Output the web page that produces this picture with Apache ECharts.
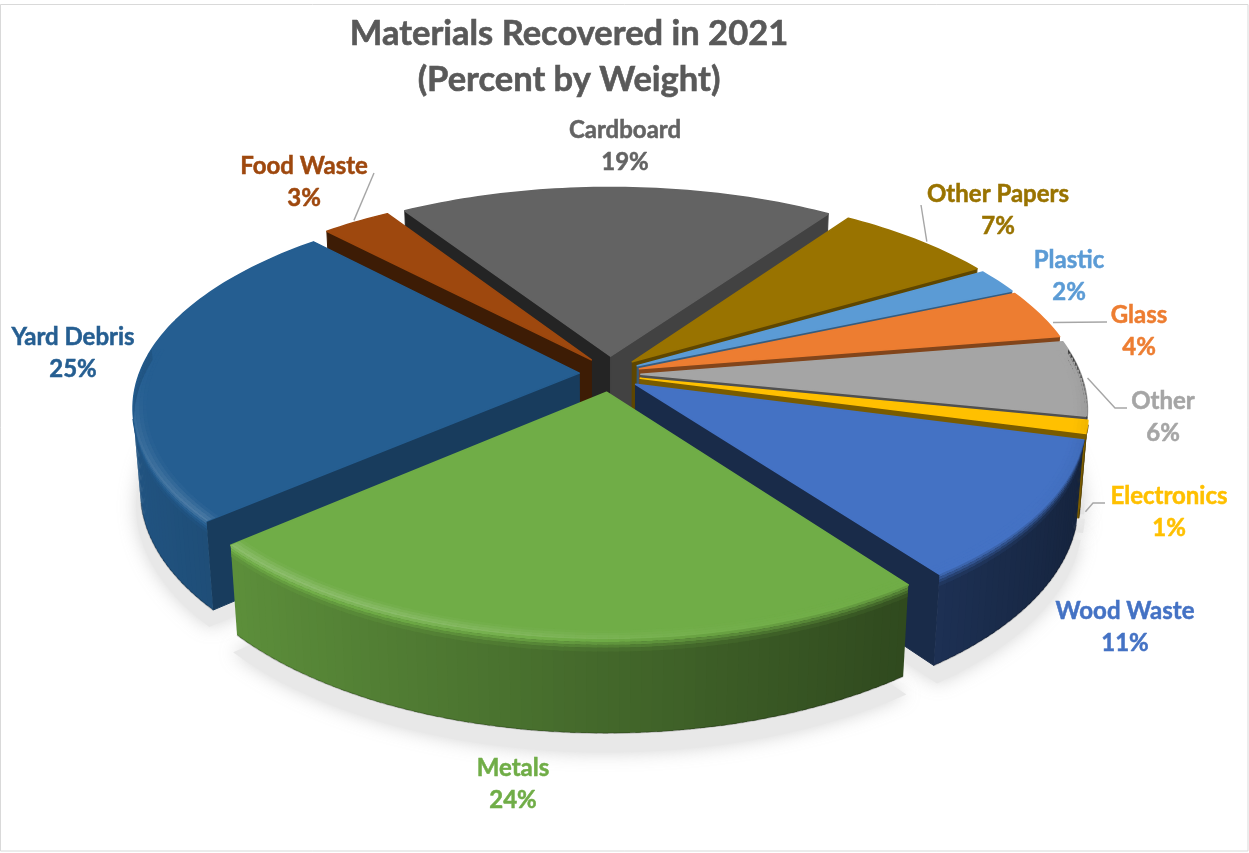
<!DOCTYPE html>
<html>
<head>
<meta charset="utf-8">
<title>Materials Recovered in 2021</title>
<script src="https://cdn.jsdelivr.net/npm/echarts@6/dist/echarts.min.js"></script>
<style>
  html, body { margin: 0; padding: 0; background: #fff; }
  #chart { width: 1249px; height: 853px; }
</style>
</head>
<body>
<div id="chart"></div>
<script>
// Recovered materials, clockwise from the far side of the disc
const categories = ['Cardboard', 'Other Papers', 'Plastic', 'Glass', 'Other', 'Electronics', 'Wood Waste', 'Metals', 'Yard Debris', 'Food Waste'];
const percents = [19, 7, 2, 4, 6, 1, 11, 24, 25, 3];
const sliceColors = ['#636363', '#997300', '#5b9bd5', '#ed7d31', '#a5a5a5', '#ffc000', '#4472c4', '#70ad47', '#255e91', '#9e480e'];
const chartTitle = 'Materials Recovered in 2021\n(Percent by Weight)';

// Label centres in page pixels, [x, y of the name line]
const labelCentres = [[625, 130], [998, 194], [1069, 260], [1139, 315], [1163, 401], [1169, 496], [1125, 611], [513, 768], [73, 337], [304, 166]];
// Leader lines: slice index -> rim position and elbow points out to the label
const leaders = {
  1: { rim: 0.55, z: 0, out: [[921, 205]] },
  3: { rim: 0.7, z: 0, out: [[1107, 322]] },
  4: { rim: 0.5, z: 0, out: [[1115, 408], [1127, 408]] },
  5: { rim: 0.5, z: 1, out: [[1093, 503], [1105, 503]] },
  9: { rim: 0.5, z: 0, out: [[374, 173]] }
};

// Perspective view of the tilted disc
const view = {
  cx: 610, cy: 374,
  scaleX: 440, scaleY: 201,
  depth: 83,
  perspective: 0.16, drop: 0.015,
  explodeX: 0.07, explodeY: 0.09, startDeg: -32.5
};

const RAD = Math.PI / 180;
const total = percents.reduce((a, b) => a + b, 0);

function project(u, v, z) {
  const w = 1 + view.perspective * v + view.drop * z;
  return [view.cx + view.scaleX * u / w, view.cy - view.scaleY * v / w + view.depth * z / w];
}

// Angular extent and explosion offset of each slice
let running = view.startDeg;
const slices = percents.map((p, i) => {
  const a0 = running;
  const a1 = running + (p / total) * 360;
  running = a1;
  const mid = (a0 + a1) / 2;
  return {
    i, a0, a1, mid,
    ox: view.explodeX * Math.sin(mid * RAD),
    oy: view.explodeY * Math.cos(mid * RAD)
  };
});

// Far slices are painted first
const paintRank = {};
slices.slice()
  .sort((a, b) => b.oy + 0.6 * Math.cos(b.mid * RAD) - (a.oy + 0.6 * Math.cos(a.mid * RAD)))
  .forEach((s, rank) => { paintRank[s.i] = rank; });

function rgb(hex) {
  return [1, 3, 5].map(k => parseInt(hex.substr(k, 2), 16));
}
function shade(hex, f) {
  const c = rgb(hex).map(v => Math.max(0, Math.min(255, Math.round(f <= 1 ? v * f : v + (255 - v) * (f - 1)))));
  return 'rgb(' + c.join(',') + ')';
}
function clamp01(t) { return Math.max(0, Math.min(1, t)); }

function rimPoint(s, deg, radius, z) {
  return project(s.ox + radius * Math.sin(deg * RAD), s.oy + radius * Math.cos(deg * RAD), z);
}

function polygon(points, fill, z2) {
  return { type: 'polygon', silent: true, z2, shape: { points }, style: { fill } };
}

function signedArea(pts) {
  let a = 0;
  for (let k = 0; k < pts.length; k++) {
    const p = pts[k], q = pts[(k + 1) % pts.length];
    a += p[0] * q[1] - q[0] * p[1];
  }
  return a / 2;
}

// Lighting of the outer wall and of the bevel along the rim
function wallLight(deg) { return 0.6 - 0.3 * Math.sin(deg * RAD); }
function bevelLight(deg) {
  const c = Math.cos((deg - 218) * RAD);
  return c > 0 ? 1 + 0.2 * Math.pow(c, 4) : 1 + 0.12 * c;
}

function sliceElements(s) {
  const color = sliceColors[s.i];
  const z2 = 10 + paintRank[s.i] * 10;
  const out = [];
  const steps = Math.max(2, Math.ceil((s.a1 - s.a0) / 1.2));
  const stepDeg = (s.a1 - s.a0) / steps;
  const angles = [];
  for (let k = 0; k <= steps; k++) angles.push(s.a0 + stepDeg * k);

  // Radial faces, only where they turn towards the viewer
  [[s.a0, 1], [s.a1, -1]].forEach(([deg, side]) => {
    const quad = [
      project(s.ox, s.oy, 0),
      rimPoint(s, deg, 1, 0),
      rimPoint(s, deg, 1, 1),
      project(s.ox, s.oy, 1)
    ];
    if (signedArea(quad) * side < 0) {
      const nx = -side * Math.cos(deg * RAD);
      out.push({
        type: 'polygon', silent: true, z2,
        shape: { points: quad },
        style: { fill: shade(color, 0.52 + 0.18 * nx), stroke: shade(color, 0.52 + 0.18 * nx), lineWidth: 1, lineJoin: 'round' }
      });
    }
  });

  // Outer wall, front-facing strips only; each strip overlaps the next so no seams show
  const facing = d => signedArea([
    rimPoint(s, d - 0.5, 1, 0), rimPoint(s, d + 0.5, 1, 0),
    rimPoint(s, d + 0.5, 1, 1), rimPoint(s, d - 0.5, 1, 1)
  ]) < 0;
  for (let k = 0; k < steps; k++) {
    const a = angles[k], m = a + stepDeg / 2, b = Math.min(s.a1, a + stepDeg * 1.5);
    if (!facing(m)) continue;
    out.push(polygon([rimPoint(s, a, 1, 0), rimPoint(s, b, 1, 0), rimPoint(s, b, 1, 1), rimPoint(s, a, 1, 1)], shade(color, wallLight(m)), z2));
  }

  // Darker lower edge of the wall, and a smooth line where the wall meets the rim
  const visible = angles.filter(facing);
  if (visible.length > 1) {
    out.push({
      type: 'polyline', silent: true, z2,
      shape: { points: visible.map(d => rimPoint(s, d, 1, 1)) },
      style: { fill: null, stroke: 'rgba(0,0,0,0.2)', lineWidth: 1.5 }
    });
    out.push({
      type: 'polyline', silent: true, z2,
      shape: { points: visible.map(d => rimPoint(s, d, 1, 0)) },
      style: { fill: null, stroke: shade(color, wallLight((s.a0 + s.a1) / 2)), lineWidth: 2.4 }
    });
  }

  // Top face
  const top = [project(s.ox, s.oy, 0)].concat(angles.map(d => rimPoint(s, d, 1, 0)));
  out.push({
    type: 'polygon', silent: true, z2: z2 + 1,
    shape: { points: top },
    style: { fill: color, stroke: color, lineWidth: 1.5, lineJoin: 'round' }
  });

  // Bevel over the rim: from the face colour up to the highlight, then down into the wall
  const bands = [
    { r0: 0.970, z0: 0, r1: 0.978, z1: 0, t: 0.15, face: true },
    { r0: 0.978, z0: 0, r1: 0.986, z1: 0, t: 0.45, face: true },
    { r0: 0.986, z0: 0, r1: 0.994, z1: 0, t: 0.75, face: true },
    { r0: 0.994, z0: 0, r1: 1, z1: 0, t: 1, face: true },
    { r0: 1, z0: 0, r1: 1, z1: 0.03, t: 1.2 },
    { r0: 1, z0: 0.03, r1: 1, z1: 0.06, t: 1.45 },
    { r0: 1, z0: 0.06, r1: 1, z1: 0.09, t: 1.7 },
    { r0: 1, z0: 0.09, r1: 1, z1: 0.13, t: 1.9 }
  ];
  for (let k = 0; k < steps; k++) {
    const a = angles[k], m = a + stepDeg / 2, b = Math.min(s.a1, a + stepDeg * 1.5);
    const strength = clamp01((0.12 - Math.cos(m * RAD)) / 0.35);
    if (strength <= 0) continue;
    const peak = bevelLight(m);
    const wall = wallLight(m);
    bands.forEach(band => {
      let f;
      if (band.face) {
        f = 1 + (peak - 1) * band.t * strength;
      } else {
        f = peak + (wall - peak) * (band.t - 1);
        f = wall + (f - wall) * strength;
      }
      out.push(polygon([rimPoint(s, a, band.r0, band.z0), rimPoint(s, b, band.r0, band.z0), rimPoint(s, b, band.r1, band.z1), rimPoint(s, a, band.r1, band.z1)], shade(color, f), z2 + 2));
    });
  }
  return out;
}

// Soft shadow of the whole disc on the ground
function shadowElements(s) {
  const steps = Math.max(2, Math.ceil((s.a1 - s.a0) / 3));
  const pts = [project(s.ox, s.oy, 1.2)];
  for (let k = 0; k <= steps; k++) {
    pts.push(rimPoint(s, s.a0 + (s.a1 - s.a0) * k / steps, 1.012, 1.17));
  }
  return {
    type: 'polygon', silent: true, z2: 1,
    shape: { points: pts },
    style: { fill: '#e8e8e8', shadowBlur: 18, shadowColor: 'rgba(150,150,150,0.4)' }
  };
}

function labelElements(s) {
  const [x, y] = labelCentres[s.i];
  const color = sliceColors[s.i];
  const out = [];
  [[categories[s.i], y], [percents[s.i] + '%', y + 32.5]].forEach(([text, ty]) => {
    out.push({
      type: 'text', silent: true, z2: 300,
      style: {
        x, y: ty, text, fill: color,
        stroke: color, lineWidth: 0.5,
        font: 'bold 24px Lato, "Noto Sans", sans-serif',
        textAlign: 'center', textVerticalAlign: 'middle'
      }
    });
  });
  const leader = leaders[s.i];
  if (leader) {
    const start = rimPoint(s, s.a0 + (s.a1 - s.a0) * leader.rim, 1.012, leader.z);
    out.push({
      type: 'polyline', silent: true, z2: 299,
      shape: { points: [start].concat(leader.out) },
      style: { fill: null, stroke: '#a6a6a6', lineWidth: 1.4 }
    });
  }
  return out;
}

const chart = echarts.init(document.getElementById('chart'), null, { renderer: 'canvas' });
chart.setOption({
  animation: false,
  backgroundColor: '#ffffff',
  title: {
    text: chartTitle,
    left: 564,
    top: 6,
    textAlign: 'center',
    textStyle: {
      color: '#595959',
      fontFamily: 'Lato, "Noto Sans", sans-serif',
      fontWeight: 'bold',
      fontSize: 34.5,
      lineHeight: 46,
      textBorderColor: '#595959',
      textBorderWidth: 0.6
    }
  },
  graphic: [{
    type: 'rect',
    silent: true,
    shape: { x: 0.5, y: 4.5, width: 1247.5, height: 846.5 },
    style: { fill: null, stroke: '#d9d9d9', lineWidth: 1 }
  }],
  series: [{
    type: 'custom',
    coordinateSystem: 'none',
    clip: false,
    data: percents.map((p, i) => [i, p]),
    renderItem(params, api) {
      const s = slices[api.value(0)];
      return {
        type: 'group',
        children: [shadowElements(s)].concat(sliceElements(s), labelElements(s))
      };
    }
  }]
});
</script>
</body>
</html>
